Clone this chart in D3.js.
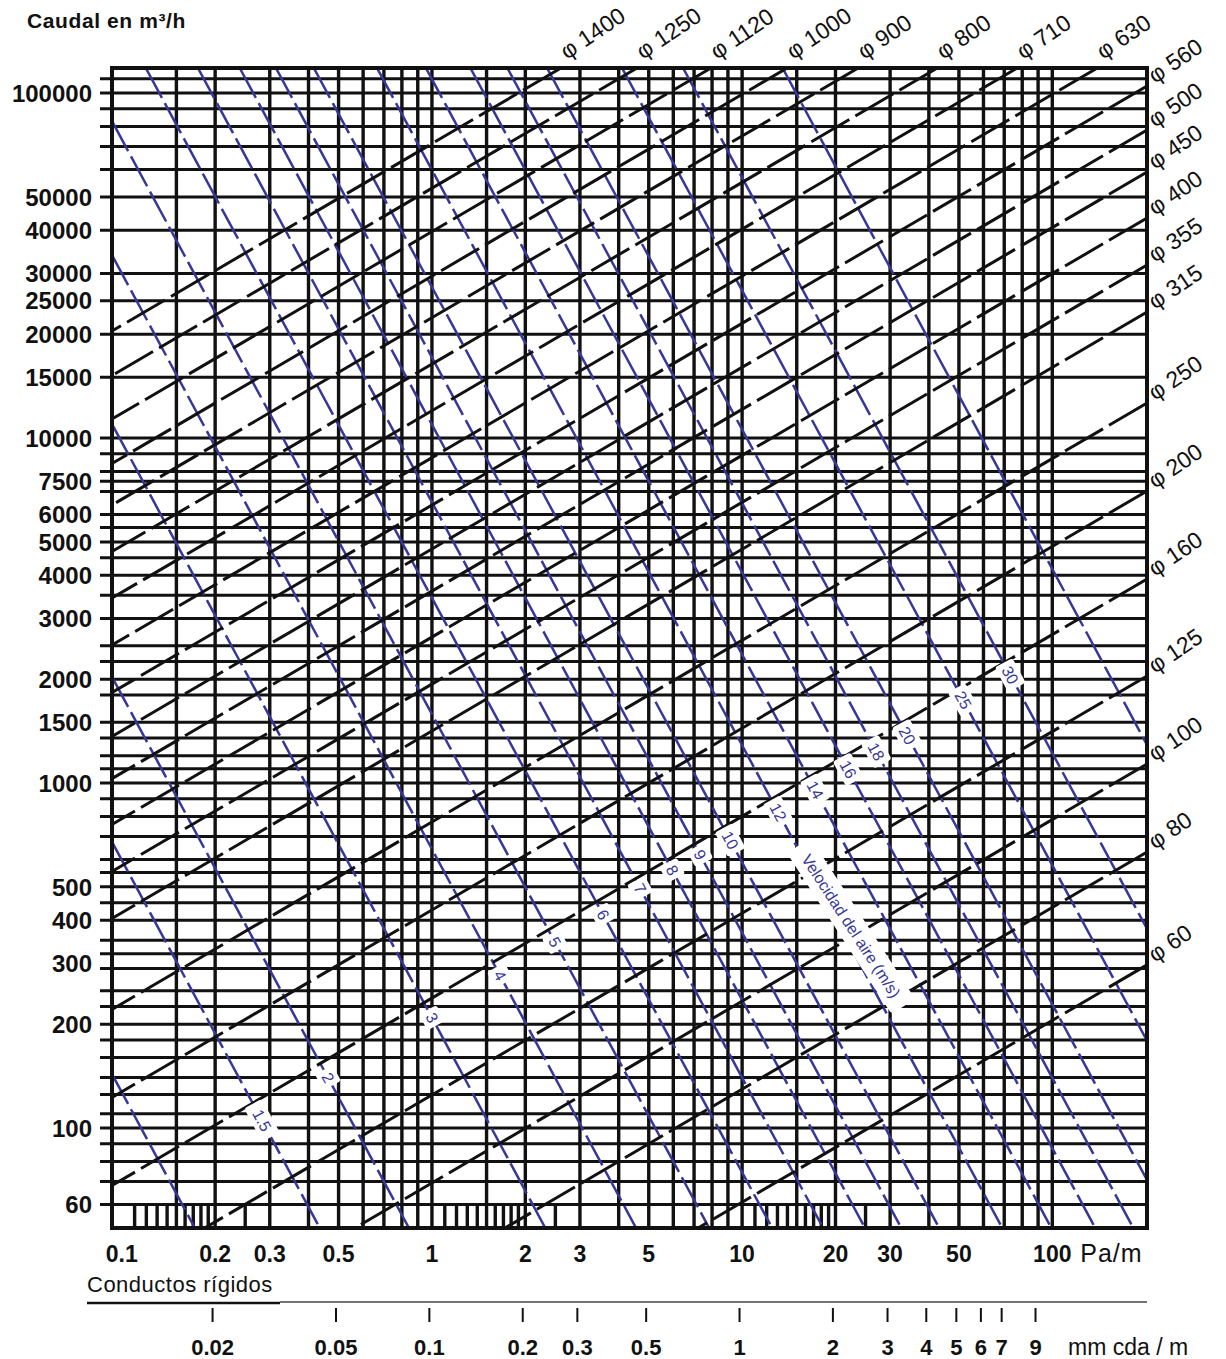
<!DOCTYPE html>
<html>
<head>
<meta charset="utf-8">
<script src="https://cdn.jsdelivr.net/npm/d3@7/dist/d3.min.js"></script>
<style>
  body { margin: 0; background: #ffffff; }
  svg { display: block; }
  text { font-family: "Liberation Sans", Arial, sans-serif; }
</style>
</head>
<body>
<svg id="chart" width="1226" height="1359"></svg>
<script>
// ---- pressure drop axis (Pa/m) ----
const pressureTicks = [0.1, 0.2, 0.3, 0.5, 1, 2, 3, 5, 10, 20, 30, 50, 100];
const pressureGrid = [0.15, 0.2, 0.3, 0.4, 0.5, 0.6, 0.7, 0.8, 0.9, 1, 1.5, 2, 3, 4, 5, 6, 7, 8, 9,
                      10, 15, 20, 30, 40, 50, 60, 70, 80, 90, 100];
const pressureMinor = [0.11, 0.12, 0.13, 0.14, 0.16, 0.17, 0.18, 0.19, 0.25,
                       1.1, 1.2, 1.3, 1.4, 1.6, 1.7, 1.8, 1.9, 2.5,
                       11, 12, 13, 14, 16, 17, 18, 19, 25];
// ---- secondary scale, mm water column per metre ----
const mmTicks = [0.02, 0.05, 0.1, 0.2, 0.3, 0.5, 1, 2, 3, 4, 5, 6, 7, 9];
const mmTickLabels = ["0.02", "0.05", "0.1", "0.2", "0.3", "0.5", "1", "2", "3", "4", "5", "6", "7", "9"];

// ---- air flow axis (m³/h) ----
const flowTicks = [100000, 50000, 40000, 30000, 25000, 20000, 15000, 10000, 7500, 6000, 5000,
                   4000, 3000, 2000, 1500, 1000, 500, 400, 300, 200, 100, 60];
const flowGrid = [110000, 100000, 90000, 80000, 70000, 60000, 50000, 40000, 30000, 25000, 20000, 15000,
                  10000, 9000, 8000, 7500, 7000, 6000, 5500, 5000, 4500, 4000, 3500, 3000, 2500, 2250,
                  2000, 1800, 1500, 1350, 1200, 1100, 1000, 900, 800, 700, 600, 550, 500, 450, 400,
                  350, 320, 290, 250, 225, 200, 180, 160, 140, 125, 110, 100, 90, 80, 70, 60];

// ---- duct diameters (mm): upper and lower end of each line, [Pa/m, m³/h] ----
const diameters = [60, 80, 100, 125, 160, 200, 250, 315, 355, 400, 450, 500, 560,
                   630, 710, 800, 900, 1000, 1120, 1250, 1400];
const diameterUpper = [
  [202, 297], [202, 631], [202, 1135], [202, 2042], [202, 3902], [202, 7022], [202, 12630],
  [202, 23190], [202, 31720], [202, 43420], [202, 59020], [202, 78130], [202, 104800],
  [139.7, 118200], [77.1, 118200], [42.6, 118200], [23.67, 118200], [13.97, 118200],
  [7.94, 118200], [4.585, 118200], [2.607, 118200]
];
const diameterLower = [
  [7.21, 51.3], [1.72, 51.3], [0.565, 51.3], [0.1852, 51.3], [0.093, 68.1], [0.093, 122.6],
  [0.093, 220.6], [0.093, 404.8], [0.093, 554], [0.093, 758], [0.093, 1030], [0.093, 1364],
  [0.093, 1829], [0.093, 2512], [0.093, 3437], [0.093, 4688], [0.093, 6394], [0.093, 8437],
  [0.093, 11350], [0.093, 15170], [0.093, 20420]
];

// ---- air velocity (m/s): upper and lower end of each line, [Pa/m, m³/h] ----
const velocities = [1, 1.5, 2, 3, 4, 5, 6, 7, 8, 9, 10, 12, 14, 16, 18, 20, 25, 30, 40];
const velocityUpper = [
  [0.093, 143.4], [0.093, 675], [0.093, 2030], [0.093, 10980], [0.093, 33900], [0.093, 82900],
  [0.1195, 118200], [0.176, 118200], [0.240, 118200], [0.314, 118200], [0.416, 118200],
  [0.665, 118200], [0.956, 118200], [1.33, 118200], [1.75, 118200], [2.35, 118200],
  [4.10, 118200], [6.45, 118200], [13.5, 118200]
];
const velocityLower = [
  [0.172, 51.3], [0.435, 51.3], [0.843, 51.3], [2.32, 51.3], [4.55, 51.3], [7.83, 51.3], [12.5, 51.3],
  [18.25, 51.3], [24.9, 51.3], [32.6, 51.3], [43.2, 51.3], [69.0, 51.3], [99.3, 51.3],
  [137.6, 51.3], [182.5, 51.3], [202, 70.7], [202, 179], [202, 378], [202, 1290]
];
// pressure drop at which each velocity is written on its line (null = unlabelled)
const velocityLabelAt = [null, 0.283, 0.462, 1.0, 1.657, 2.49, 3.56, 4.69, 5.95, 7.32, 9.15,
                         13.07, 17.2, 21.98, 27.06, 34.07, 51.6, 73.2, null];

// ------------------------------------------------------------------
const svg = d3.select("#chart");
const W = 1226, H = 1359;
const plot = { left: 112, right: 1147, top: 68, bottom: 1228 };

const x = d3.scaleLog().domain([0.093, 202]).range([plot.left, plot.right]);
const y = d3.scaleLog().domain([51.3, 118200]).range([plot.bottom, plot.top]);
// same positions expressed in mm water column (1 mm cda = 9.81 Pa)
const xMm = d3.scaleLog().domain([0.093 / 9.81, 202 / 9.81]).range([plot.left, plot.right]);

const INK = "#111111";
const BLUE = "#37379a";

svg.append("rect").attr("width", W).attr("height", H).attr("fill", "#ffffff");

svg.append("clipPath").attr("id", "plotClip")
  .append("rect")
  .attr("x", plot.left).attr("y", plot.top)
  .attr("width", plot.right - plot.left).attr("height", plot.bottom - plot.top);

// horizontal grid (with tick stubs on the left)
svg.append("g").selectAll("line").data(flowGrid).join("line")
  .attr("x1", plot.left - 12).attr("x2", plot.right)
  .attr("y1", d => y(d)).attr("y2", d => y(d))
  .attr("stroke", INK).attr("stroke-width", 3);

// vertical grid
svg.append("g").selectAll("line").data(pressureGrid).join("line")
  .attr("x1", d => x(d)).attr("x2", d => x(d))
  .attr("y1", plot.top).attr("y2", plot.bottom)
  .attr("stroke", INK).attr("stroke-width", 3.4);

// minor ticks in the bottom band
svg.append("g").selectAll("line").data(pressureMinor).join("line")
  .attr("x1", d => x(d)).attr("x2", d => x(d))
  .attr("y1", y(60)).attr("y2", plot.bottom)
  .attr("stroke", INK).attr("stroke-width", 3.4);

const diag = svg.append("g").attr("clip-path", "url(#plotClip)");

// velocity lines
const velLines = velocities.map((v, i) => ({
  v,
  x1: x(velocityUpper[i][0]), y1: y(velocityUpper[i][1]),
  x2: x(velocityLower[i][0]), y2: y(velocityLower[i][1]),
  at: velocityLabelAt[i]
}));
diag.append("g").selectAll("line").data(velLines).join("line")
  .attr("x1", d => d.x1).attr("y1", d => d.y1)
  .attr("x2", d => d.x2).attr("y2", d => d.y2)
  .attr("stroke", BLUE).attr("stroke-width", 2.5)
  .attr("stroke-dasharray", "34,6");

// diameter lines
const diaLines = diameters.map((dm, i) => ({
  dm,
  x1: x(diameterUpper[i][0]), y1: y(diameterUpper[i][1]),
  x2: x(diameterLower[i][0]), y2: y(diameterLower[i][1])
}));
diag.append("g").selectAll("line").data(diaLines).join("line")
  .attr("x1", d => d.x1).attr("y1", d => d.y1)
  .attr("x2", d => d.x2).attr("y2", d => d.y2)
  .attr("stroke", INK).attr("stroke-width", 3)
  .attr("stroke-dasharray", "44,7");

// frame
svg.append("rect")
  .attr("x", plot.left).attr("y", plot.top)
  .attr("width", plot.right - plot.left).attr("height", plot.bottom - plot.top)
  .attr("fill", "none").attr("stroke", INK).attr("stroke-width", 4);

// velocity labels, written along their lines
const velLabelG = svg.append("g");
velLines.filter(d => d.at !== null).forEach(d => {
  const px = x(d.at);
  const t = (px - d.x1) / (d.x2 - d.x1);
  const py = d.y1 + t * (d.y2 - d.y1);
  const ang = Math.atan2(d.y2 - d.y1, d.x2 - d.x1) * 180 / Math.PI;
  const g = velLabelG.append("g").attr("transform", `translate(${px},${py}) rotate(${ang})`);
  const txt = String(d.v);
  const w = txt.length * 10 + 8;
  g.append("rect").attr("x", -w / 2).attr("y", -10).attr("width", w).attr("height", 20)
    .attr("rx", 3).attr("fill", "#ffffff");
  g.append("text").attr("text-anchor", "middle").attr("dy", "0.35em")
    .attr("font-size", 16).attr("fill", BLUE).text(txt);
});

// velocity caption
{
  const g = svg.append("g").attr("transform", "translate(851,926) rotate(57)");
  g.append("rect").attr("x", -96).attr("y", -14).attr("width", 192).attr("height", 28)
    .attr("rx", 4).attr("fill", "#ffffff");
  g.append("text").attr("text-anchor", "middle").attr("dy", "0.35em")
    .attr("font-size", 16).attr("fill", BLUE).text("Velocidad del aire (m/s)");
}

// diameter labels at the upper end of each line
svg.append("g").selectAll("text").data(diaLines).join("text")
  .attr("transform", d => d.y1 <= plot.top + 1
      ? `translate(${d.x1 + 6},${plot.top - 8}) rotate(-34)`
      : `translate(${plot.right + 8},${d.y1 - 2}) rotate(-34)`)
  .attr("font-size", 23).attr("fill", INK)
  .text(d => "φ " + d.dm);

// flow labels
svg.append("g").selectAll("text").data(flowTicks).join("text")
  .attr("x", 92).attr("y", d => y(d)).attr("dy", "0.36em")
  .attr("text-anchor", "end").attr("font-size", 24).attr("font-weight", "bold")
  .attr("fill", INK).text(d => d);

// pressure labels
svg.append("g").selectAll("text").data(pressureTicks).join("text")
  .attr("x", d => x(d)).attr("y", 1262)
  .attr("text-anchor", "middle").attr("font-size", 23).attr("font-weight", "bold")
  .attr("fill", INK).text(d => d);
svg.append("text").attr("x", x(100) + 28).attr("y", 1262)
  .attr("font-size", 25).attr("letter-spacing", 1).attr("fill", INK).text("Pa/m");

// title
svg.append("text").attr("x", 27).attr("y", 28)
  .attr("font-size", 21).attr("font-weight", "bold").attr("letter-spacing", 0.6).attr("fill", INK)
  .text("Caudal en m³/h");

// rigid duct scale
svg.append("text").attr("x", 87).attr("y", 1292)
  .attr("font-size", 22).attr("letter-spacing", 0.5).attr("fill", INK).text("Conductos rígidos");
svg.append("line").attr("x1", 87).attr("x2", 280).attr("y1", 1303).attr("y2", 1303)
  .attr("stroke", INK).attr("stroke-width", 2.4);
svg.append("line").attr("x1", 280).attr("x2", plot.right).attr("y1", 1302).attr("y2", 1302)
  .attr("stroke", "#444").attr("stroke-width", 1.3);
svg.append("g").selectAll("line").data(mmTicks).join("line")
  .attr("x1", d => xMm(d)).attr("x2", d => xMm(d))
  .attr("y1", 1308).attr("y2", 1322)
  .attr("stroke", INK).attr("stroke-width", 2);
svg.append("g").selectAll("text").data(mmTicks).join("text")
  .attr("x", d => xMm(d)).attr("y", 1355)
  .attr("text-anchor", "middle").attr("font-size", 22).attr("font-weight", "bold")
  .attr("fill", INK).text((d, i) => mmTickLabels[i]);
svg.append("text").attr("x", 1068).attr("y", 1355)
  .attr("font-size", 23).attr("fill", INK).text("mm cda / m");
</script>
</body>
</html>
